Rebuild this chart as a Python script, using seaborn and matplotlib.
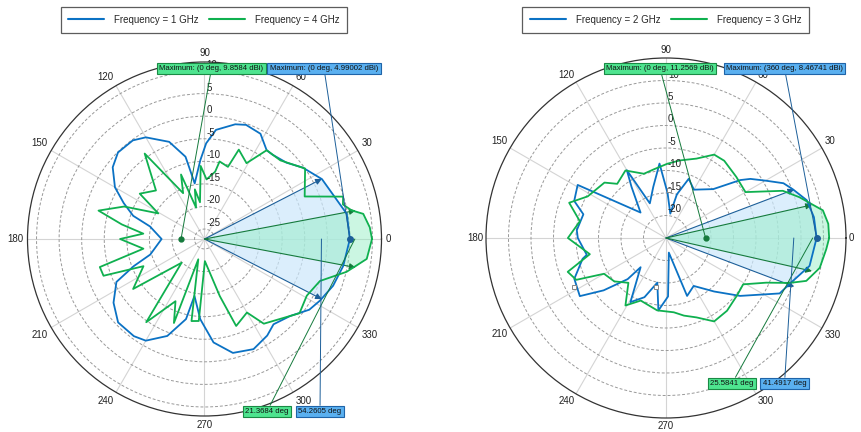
import numpy as np
import pandas as pd
import matplotlib
matplotlib.use('Agg')
import matplotlib.pyplot as plt
import matplotlib.transforms as mtransforms
from matplotlib.lines import Line2D
import seaborn as sns

sns.set_theme(style='white')
plt.rcParams['font.family'] = ['Liberation Sans', 'DejaVu Sans']

BLUE = '#0b72c4'
GREEN = '#0fb04f'

# ---- left panel: 1 GHz and 4 GHz (deg, dBi)
ang_1ghz = [0, 10, 27, 36, 43, 51, 55, 62, 70, 75, 84, 89, 93, 100, 103, 110, 120, 126, 135, 142,
            150, 156, 162, 167, 180, 196, 201, 206, 215, 224, 234, 240, 249, 257, 260, 267, 275,
            284, 294, 303, 309, 318, 326, 332, 340, 349, 360]
gain_1ghz = [5.0, 4.8, 2.0, -0.3, -2.4, -3.2, -3.2, -0.8, -0.3, -0.9, -2.9, -6.0, -9.7, -14.7, -8.5,
             -4.3, -1.2, -0.2, -0.1, -1.4, -4.3, -7.6, -10.6, -14.8, -17.7, -14.7, -10.4, -5.5, -2.6,
             -0.6, -0.6, -1.2, -4.2, -9.0, -14.4, -9.4, -4.2, -1.2, -0.5, -1.7, -2.9, -1.7, 0.8, 1.8,
             3.1, 4.1, 5.0]
ang_4ghz = [0, 4, 9, 11, 14, 17, 23, 35, 46, 55, 61, 69, 72, 79, 81, 88, 93, 97, 101, 105,
            110, 115, 125, 135, 145, 151, 158, 165, 170, 175, 180, 189, 195, 200, 204, 215, 226,
            235, 245, 250, 253, 261, 266, 271, 285, 290, 300, 305, 322, 331, 340, 347, 353, 360]
gain_4ghz = [9.9, 9.5, 8.4, 6.0, 4.4, 4.9, -3.1, 0.0, -3.0, -3.2, -8.0, -6.0, -10.4,
             -9.7, -12.1, -14.0, -11.0, -19.0, -16.0, -20.0, -12.0, -16.0, -4.1, -12.0, -9.7, -15.5,
             -8.0, -2.9, -8.6, -13.6, -8.5, -13.5, -3.2, -3.4, -12.4, -7.9, -19.9, -4.7, -12.0,
             -7.4, -22.5, -8.8, -9.0, -22.3, -14.1, -6.7, -8.4, -4.3, -0.5, -1.3, 0.0, 5.1, 9.0, 9.9]

# ---- right panel: 2 GHz and 3 GHz
ang_2ghz = [0, 8, 15, 21, 25, 30, 35, 38, 46, 60, 69, 76, 80, 88, 95, 104, 115, 120, 124, 135, 149,
            158, 164, 175, 180, 192, 194, 204, 214, 220, 227, 229, 241, 250, 259, 264, 272, 281,
            290, 300, 312, 322, 334, 340, 349, 360]
gain_2ghz = [8.47, 8.2, 7.4, 5.2, 3.8, 0.5, -2.1, -4.1, -9.9, -12.6, -10.9, -15.0, -19.5, -15.0,
             -8.4, -13.3, -16.5, -7.6, -11.3, -17.0, -2.1, -3.0, -5.9, -5.1, -5.4, -7.0, -5.9,
             -2.7, -1.9, -6.9, -12.5, -16.4, -8.7, -11.0, -14.9, -8.8, -12.0, -21.7, -11.3, -12.7,
             -9.0, -4.1, 3.1, 4.4, 7.5, 8.47]
ang_3ghz = [0, 5, 10, 13, 17, 22, 30, 33, 41, 53, 60, 69, 80, 89, 100, 109, 121, 132, 138, 152, 160,
            169, 180, 192, 199, 205, 210, 220, 230, 239, 248, 263, 276, 283, 291, 300, 310, 321, 329,
            336, 340, 343, 349, 356, 360]
gain_3ghz = [11.26, 11.2, 10.4, 8.3, 6.0, 3.0, -4.6, -4.6, -4.3, -3.5, -3.6, -6.1, -7.5, -8.5, -9.5,
             -9.9, -7.5, -8.8, -6.6, -5.3, -2.1, -5.5, -3.2, -7.7, -1.9, -3.0, -9.1, -10.0, -12.0,
             -7.5, -10.0, -8.8, -8.4, -7.3, -6.1, -3.6, -3.9, -4.7, -5.0, -0.6, 4.2, 7.6, 9.8, 10.7,
             11.26]

# data cursors left on the 2 GHz trace
cursor_ang = [86, 208, 259]
cursor_gain = [-14.4, -1.8, -13.8]

angle_ticks = list(range(0, 360, 30))

# peak / beamwidth readouts
peak_1ghz, hpbw_1ghz = 4.99002, 54.2605
peak_4ghz, hpbw_4ghz = 9.8584, 21.3684
peak_2ghz, hpbw_2ghz = 8.46741, 41.4917
peak_3ghz, hpbw_3ghz = 11.2569, 25.5841


def fill_beam(ax, ang, gain, peak, hpbw, rmin, face, edge):
    a = (np.asarray(ang, float) + 180) % 360 - 180
    g = np.asarray(gain, float)
    h = hpbw / 2
    keep = np.abs(a) < h
    order = np.argsort(a[keep])
    th = np.r_[-h, a[keep][order], h]
    rr = np.r_[peak - 3, g[keep][order], peak - 3]
    ax.fill(np.deg2rad(np.r_[0, th, 0]), np.r_[rmin, rr, rmin], color=face, lw=0, zorder=1)
    for s in (-1, 1):
        ax.annotate('', xy=(np.deg2rad(s * h), peak - 3), xytext=(0, rmin),
                    arrowprops=dict(arrowstyle='-|>', color=edge, lw=0.8, mutation_scale=9,
                                    shrinkA=0, shrinkB=0), zorder=4)


def box(ax, text, xy, xytext, face, edge, lc):
    ax.annotate(text, xy=xy, xycoords='data', xytext=xytext, textcoords='figure pixels',
                ha='center', va='center', fontsize=5.6, color='#111111', zorder=10,
                bbox=dict(boxstyle='square,pad=0.3', fc=face, ec=edge, lw=0.8),
                arrowprops=dict(arrowstyle='-', color=lc, lw=0.7, shrinkA=0, shrinkB=0),
                annotation_clip=False)


def panel(ax, curves, rlim, rings, gap):
    for ang, gain, label, color in curves:
        df = pd.DataFrame({'theta': np.deg2rad(ang), 'gain': gain, 'freq': label})
        sns.lineplot(data=df, x='theta', y='gain', color=color, sort=False, estimator=None,
                     ax=ax, legend=False, linewidth=1.3, zorder=5)
    ax.set_ylim(*rlim)
    ax.set_yticks(rings)
    ax.set_yticklabels([])
    ax.set_xticks(np.deg2rad(angle_ticks))
    ax.set_xticklabels([])
    ax.tick_params(axis='both', length=0)
    ax.xaxis.grid(True, color='#d4d4d4', lw=0.8, ls='-')
    ax.yaxis.grid(True, color='#999999', lw=0.7, ls=(0, (3, 2)))
    ax.spines['polar'].set_color('#333333')
    ax.spines['polar'].set_linewidth(0.9)
    ax.set_xlabel('')
    ax.set_ylabel('')
    # angle labels: text box kept a few px clear of the rim
    for d in angle_ticks:
        t = np.deg2rad(d)
        c, s = np.cos(t), np.sin(t)
        ha = 'left' if c > 0.3 else ('right' if c < -0.3 else 'center')
        va = 'bottom' if s > 0.3 else ('top' if s < -0.3 else 'center')
        off = mtransforms.ScaledTranslation(gap * c / 100, gap * s / 100, ax.figure.dpi_scale_trans)
        ax.text(t, rlim[1], str(d), ha=ha, va=va, fontsize=7, color='#222222',
                transform=ax.transData + off, clip_on=False)
    off = mtransforms.ScaledTranslation(2 / 100, 1 / 100, ax.figure.dpi_scale_trans)
    for v in rings:
        ax.text(np.pi / 2, v, str(v), ha='left', va='bottom', fontsize=7, color='#222222',
                transform=ax.transData + off, zorder=6)


fig = plt.figure(figsize=(8.62, 4.32), dpi=100)
axL = fig.add_axes([27.5 / 862, 16 / 432, 354 / 862, 354 / 432], projection='polar')
axR = fig.add_axes([486 / 862, 14 / 432, 360 / 862, 360 / 432], projection='polar')

rlimL, rlimR = (-27.2, 12.0), (-25.0, 15.0)
panel(axL, [(ang_1ghz, gain_1ghz, '1 GHz', BLUE), (ang_4ghz, gain_4ghz, '4 GHz', GREEN)],
      rlimL, list(range(-25, 15, 5)), 4.5)
panel(axR, [(ang_2ghz, gain_2ghz, '2 GHz', BLUE), (ang_3ghz, gain_3ghz, '3 GHz', GREEN)],
      rlimR, list(range(-20, 15, 5)), 3)

fill_beam(axL, ang_1ghz, gain_1ghz, peak_1ghz, hpbw_1ghz, rlimL[0], (0.80, 0.91, 0.99, 0.7), '#1d5f99')
fill_beam(axL, ang_4ghz, gain_4ghz, peak_4ghz, hpbw_4ghz, rlimL[0], (0.55, 0.93, 0.75, 0.45), '#157a3c')
fill_beam(axR, ang_2ghz, gain_2ghz, peak_2ghz, hpbw_2ghz, rlimR[0], (0.80, 0.91, 0.99, 0.7), '#1d5f99')
fill_beam(axR, ang_3ghz, gain_3ghz, peak_3ghz, hpbw_3ghz, rlimR[0], (0.55, 0.93, 0.75, 0.45), '#157a3c')

axR.plot(np.deg2rad(cursor_ang), cursor_gain, 's', ms=3.5, mfc='white', mec='#888888', mew=0.7,
         ls='none', zorder=7)

gbox, gedge = '#4ee48f', '#1a8a45'
bbox_, bedge = '#5ab0f0', '#1f64a8'

# left readouts
axL.plot(np.pi, -22.0, 'o', color='#157a3c', ms=3.5, zorder=8)
axL.plot(0, peak_1ghz, 'o', color='#1d5f99', ms=4, zorder=8)
box(axL, f'Maximum: (0 deg, {peak_4ghz} dBi)', (np.pi, -22.0), (211.5, 363.5), gbox, gedge, '#157a3c')
box(axL, f'Maximum: (0 deg, {peak_1ghz} dBi)', (0, peak_1ghz), (324, 363.5), bbox_, bedge, '#1d5f99')
box(axL, f'{hpbw_4ghz} deg', (0, 6.1), (267, 20.5), gbox, gedge, '#157a3c')
box(axL, f'{hpbw_1ghz} deg', (0, -1.3), (320, 20.5), bbox_, bedge, '#1d5f99')

# right readouts
axR.plot(0, -16.2, 'o', color='#157a3c', ms=3.5, zorder=8)
axR.plot(0, peak_2ghz, 'o', color='#1d5f99', ms=4, zorder=8)
box(axR, f'Maximum: (0 deg, {peak_3ghz} dBi)', (0, -16.2), (660, 363.5), gbox, gedge, '#157a3c')
box(axR, f'Maximum: (360 deg, {peak_2ghz} dBi)', (0, peak_2ghz), (784.5, 363.5), bbox_, bedge, '#1d5f99')
box(axR, f'{hpbw_3ghz} deg', (0, 7.6), (732, 48.5), gbox, gedge, '#157a3c')
box(axR, f'{hpbw_2ghz} deg', (0, 3.4), (784.5, 48.5), bbox_, bedge, '#1d5f99')

for cx, labs in ((204 / 862, ('1 GHz', '4 GHz')), (665.5 / 862, ('2 GHz', '3 GHz'))):
    handles = [Line2D([], [], color=BLUE, lw=1.5), Line2D([], [], color=GREEN, lw=1.5)]
    leg = fig.legend(handles, [f'Frequency = {labs[0]}', f'Frequency = {labs[1]}'],
                     loc='upper center', bbox_to_anchor=(cx, 1 - 7 / 432), ncol=2, fontsize=7,
                     frameon=True, fancybox=False, edgecolor='#333333', handlelength=3.7,
                     handletextpad=1.0, columnspacing=1.1, borderpad=0.8, borderaxespad=0)
    leg.get_frame().set_linewidth(0.9)

fig.savefig('out.png', dpi=100)
